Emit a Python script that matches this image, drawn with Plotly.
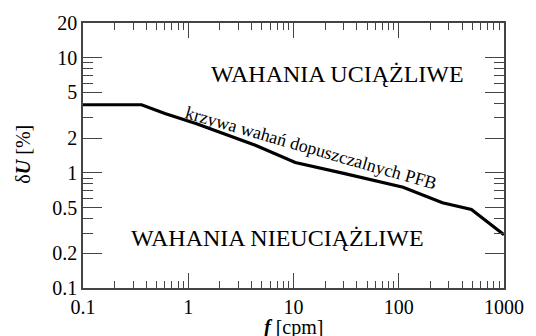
import plotly.graph_objects as go

# Data (f in cpm, dU in %)
freq_cpm = [0.1, 0.36, 0.6, 1.2, 4.4, 10.4, 30, 110, 260, 490, 1000]
dU_pct = [3.9, 3.9, 3.27, 2.67, 1.73, 1.23, 0.99, 0.75, 0.55, 0.48, 0.29]

x_major = [0.1, 1, 10, 100, 1000]
x_major_text = ["0.1", "1", "10", "100", "1000"]
x_minor = [m * d for d in (0.1, 1, 10, 100) for m in range(2, 10)]

y_major = [0.1, 0.2, 0.5, 1, 2, 5, 10, 20]
y_major_text = ["0.1", "0.2", "0.5", "1", "2", "5", "10", "20"]
y_minor = [0.3, 0.4, 0.6, 0.7, 0.8, 0.9, 3, 4, 6, 7, 8, 9]

label_upper = "WAHANIA UCIĄŻLIWE"
label_lower = "WAHANIA NIEUCIĄŻLIWE"
label_curve = "krzywa wahań dopuszczalnych PFB"

FONT = "Liberation Serif"
AX = "#444444"
xr = [-1, 3]
yr = [-1, 1.30103]

fig = go.Figure()
fig.add_trace(go.Scatter(x=freq_cpm, y=dU_pct, mode="lines",
                         line=dict(color="black", width=3.2),
                         showlegend=False, hoverinfo="skip"))
# invisible companions so every tick axis pair is drawn
for k in (2, 3, 4):
    fig.add_trace(go.Scatter(x=freq_cpm, y=dU_pct, mode="lines",
                             xaxis=f"x{k}", yaxis=f"y{k}",
                             line=dict(color="rgba(0,0,0,0)", width=0),
                             showlegend=False, hoverinfo="skip"))

base = dict(type="log", showgrid=False, zeroline=False, showline=True,
            linecolor=AX, linewidth=1.5, ticks="inside", tickcolor=AX,
            tickwidth=1.2, tickmode="array")

def xax(vals, text, ln, side, labels, anchor, overlay=True):
    d = dict(base, range=xr, tickvals=vals, ticklen=ln, side=side,
             showticklabels=labels, anchor=anchor)
    if text is not None:
        d["ticktext"] = text
    if overlay:
        d["overlaying"] = "x"
    d["tickfont"] = dict(family=FONT, size=20, color="black")
    return d

def yax(vals, text, ln, side, labels, anchor, overlay=True):
    d = dict(base, range=yr, tickvals=vals, ticklen=ln, side=side,
             showticklabels=labels, anchor=anchor)
    if text is not None:
        d["ticktext"] = text
    if overlay:
        d["overlaying"] = "y"
    d["tickfont"] = dict(family=FONT, size=20, color="black")
    return d

fig.update_layout(
    width=536, height=336,
    margin=dict(l=83, r=23, t=22, b=48),
    paper_bgcolor="white", plot_bgcolor="white",
    font=dict(family=FONT, color="black"),
    xaxis=xax(x_major, x_major_text, 15, "bottom", True, "y", overlay=False),
    yaxis=yax(y_major, y_major_text, 19, "left", True, "x", overlay=False),
    xaxis2=xax(x_minor, None, 7, "bottom", False, "y2"),
    yaxis2=yax(y_minor, None, 10, "left", False, "x2"),
    xaxis3=xax(x_major, None, 15, "top", False, "y3"),
    yaxis3=yax(y_major, None, 19, "right", False, "x3"),
    xaxis4=xax(x_minor, None, 7, "top", False, "y4"),
    yaxis4=yax(y_minor, None, 10, "right", False, "x4"),
    annotations=[
        dict(text=label_upper, xref="paper", yref="paper", x=0.30, y=0.808,
             xanchor="left", yanchor="middle", showarrow=False,
             font=dict(family=FONT, size=24, color="black")),
        dict(text=label_lower, xref="paper", yref="paper", x=0.109, y=0.19,
             xanchor="left", yanchor="middle", showarrow=False,
             font=dict(family=FONT, size=24, color="black")),
        dict(text=label_curve, xref="paper", yref="paper", x=0.542, y=0.53,
             xanchor="center", yanchor="middle", showarrow=False, textangle=16,
             font=dict(family=FONT, size=18, color="black")),
        dict(text="<b><i>f</i></b> [cpm]", xref="paper", yref="paper", x=0.5, y=-0.15,
             xanchor="center", yanchor="middle", showarrow=False,
             font=dict(family=FONT, size=20, color="black")),
        dict(text="δ<b><i>U</i></b> [%]", xref="paper", yref="paper", x=-0.142, y=0.504,
             xanchor="center", yanchor="middle", showarrow=False, textangle=-90,
             font=dict(family=FONT, size=20, color="black")),
    ],
)

fig.write_html("out.html")
